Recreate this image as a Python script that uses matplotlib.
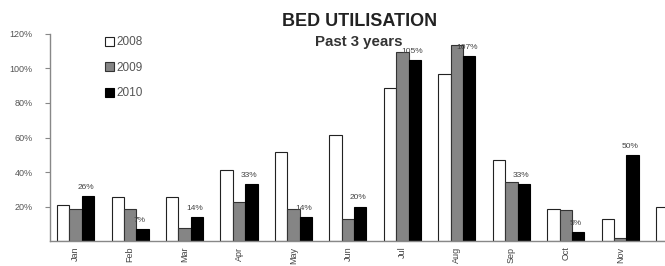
import matplotlib
matplotlib.use("Agg")
import matplotlib.pyplot as plt
import numpy as np

plt.rcParams["font.family"] = ["Liberation Sans", "DejaVu Sans"]

months = ["Jan", "Feb", "Mar", "Apr", "May", "Jun", "Jul", "Aug", "Sep", "Oct", "Nov", "Dec"]
y2008 = [21, 25.5, 25.5, 41, 51.5, 61.5, 88.5, 97, 47, 18.5, 13, 20]
y2009 = [18.5, 18.5, 7.5, 22.5, 18.5, 13, 109.5, 113.5, 34, 18, 1.5, 15]
y2010 = [26, 7, 14, 33, 14, 20, 105, 107, 33, 5, 50, 10]
labels2010 = ["26%", "7%", "14%", "33%", "14%", "20%", "105%", "107%", "33%", "5%", "50%", ""]
yticks = [20, 40, 60, 80, 100, 120]

fig = plt.figure(figsize=(6.65, 2.66), dpi=100)
ax = fig.add_axes([50/665, 25/266, 652/665, 207/266])

x = np.arange(len(months))
w = 0.227
ax.bar(x - w, y2008, w, color="white", edgecolor="#222222", linewidth=0.8, label="2008")
ax.bar(x, y2009, w, color="#858585", edgecolor="#333333", linewidth=0.8, label="2009")
ax.bar(x + w, y2010, w, color="black", edgecolor="black", linewidth=0.8, label="2010")

for xi, v, t in zip(x, y2010, labels2010):
    if t:
        ax.text(xi + w * 0.8, v + 3, t, ha="center", va="bottom", fontsize=6, color="#444444")

ax.set_xlim(-0.47, 11.5)
ax.set_ylim(0, 120)
ax.set_yticks(yticks)
ax.set_yticklabels([f"{t}%" for t in yticks], fontsize=6.5, color="#555555")
# Dec is off the visible image in the reference, so only the first 11 months get labels
ax.set_xticks(x[:11])
ax.set_xticklabels(months[:11], rotation=90, fontsize=6.5, color="#444444")
ax.tick_params(axis="x", length=0, pad=4)
ax.tick_params(axis="y", length=3.5, color="#888888", pad=9)
for s in ["top", "right"]:
    ax.spines[s].set_visible(False)
for s in ["left", "bottom"]:
    ax.spines[s].set_color("#888888")
    ax.spines[s].set_linewidth(1.0)

leg = ax.legend(loc="upper left", bbox_to_anchor=(0.068, 1.04), frameon=False, fontsize=8.5,
                handlelength=0.75, handleheight=0.75, handletextpad=0.25, labelspacing=1.15,
                labelcolor="#555555")

fig.text(360/665, 1 - 21/266, "BED UTILISATION", ha="center", va="center", fontsize=13, fontweight="bold", color="#222222")
fig.text(359/665, 1 - 42/266, "Past 3 years", ha="center", va="center", fontsize=10.8, fontweight="bold", color="#333333")

fig.savefig("out.png", dpi=100)
